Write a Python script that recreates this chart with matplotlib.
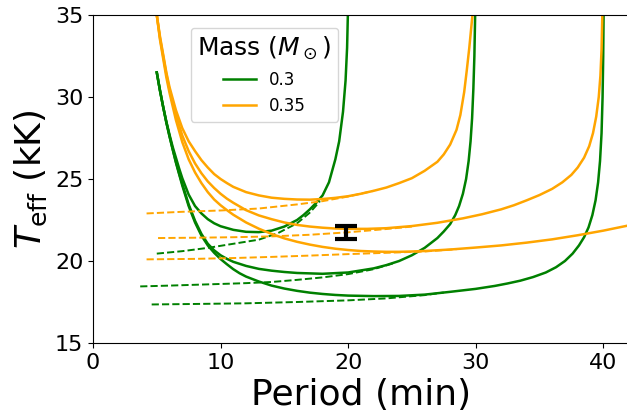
import matplotlib
matplotlib.use("Agg")
import matplotlib.pyplot as plt

# Solid tracks (period in min, Teff in kK)
g1_p = [5.0, 5.25, 5.5, 5.75, 6.0, 6.25, 6.5, 6.75, 7.0, 7.5, 8.0, 8.5, 9.0, 9.5, 10.0, 11.0, 12.0, 13.0, 14.0, 15.0, 16.0, 16.5, 17.0, 17.5, 18.0, 18.5, 19.0, 19.3, 19.6, 19.8, 19.92, 19.98]
g1_t = [31.5, 30.4, 29.4, 28.5, 27.7, 26.95, 26.3, 25.65, 25.05, 24.05, 23.35, 22.9, 22.55, 22.3, 22.12, 21.9, 21.78, 21.76, 21.85, 22.1, 22.5, 22.8, 23.15, 23.55, 24.0, 24.8, 26.2, 27.3, 29.1, 31.0, 33.0, 35.0]
g2_p = [5.0, 5.25, 5.5, 5.75, 6.0, 6.25, 6.5, 6.75, 7.0, 7.5, 8.0, 8.5, 9.0, 9.5, 10.0, 10.5, 11.0, 12.0, 13.0, 14.0, 15.0, 16.0, 18.0, 20.0, 22.0, 23.0, 24.0, 25.0, 26.0, 26.5, 27.0, 27.5, 28.0, 28.4, 28.7, 29.0, 29.25, 29.45, 29.6, 29.72, 29.82, 29.9, 29.96]
g2_t = [31.5, 30.4, 29.4, 28.45, 27.6, 26.8, 26.05, 25.35, 24.7, 23.45, 22.45, 21.65, 21.05, 20.65, 20.35, 20.13, 19.95, 19.7, 19.52, 19.41, 19.33, 19.27, 19.22, 19.3, 19.55, 19.75, 20.0, 20.35, 20.8, 21.1, 21.4, 21.8, 22.25, 22.8, 23.35, 24.1, 25.0, 26.1, 27.3, 28.7, 30.5, 32.5, 35.0]
g3_p = [5.0, 5.25, 5.5, 5.75, 6.0, 6.25, 6.5, 6.75, 7.0, 7.5, 8.0, 8.5, 9.0, 9.5, 10.0, 10.5, 11.0, 11.5, 12.0, 13.0, 14.0, 15.0, 16.0, 17.0, 18.0, 19.0, 20.0, 22.0, 24.0, 26.0, 28.0, 30.0, 31.5, 32.5, 33.5, 34.5, 35.5, 36.3, 37.0, 37.6, 38.1, 38.5, 38.85, 39.15, 39.4, 39.6, 39.75, 39.87, 39.95, 40.0, 40.03]
g3_t = [31.5, 30.4, 29.4, 28.45, 27.6, 26.8, 26.0, 25.3, 24.6, 23.35, 22.35, 21.55, 20.95, 20.5, 20.12, 19.8, 19.5, 19.25, 19.05, 18.75, 18.5, 18.32, 18.18, 18.07, 17.99, 17.93, 17.89, 17.86, 17.87, 17.95, 18.12, 18.3, 18.48, 18.63, 18.8, 19.02, 19.3, 19.62, 20.0, 20.45, 20.95, 21.45, 22.05, 22.8, 23.7, 24.8, 26.1, 27.8, 30.0, 32.5, 35.0]

o1_p = [5.0, 5.25, 5.5, 5.75, 6.0, 6.5, 7.0, 7.5, 8.0, 8.5, 9.0, 9.5, 10.0, 10.5, 11.0, 12.0, 13.0, 14.0, 15.0, 16.0, 17.0, 18.0, 19.0, 20.0, 21.0, 22.0, 23.0, 24.0, 25.0, 26.0, 27.0, 27.5, 28.0, 28.5, 28.8, 29.1, 29.3, 29.5, 29.65, 29.75]
o1_t = [35.0, 33.7, 32.6, 31.5, 30.6, 29.2, 28.1, 27.3, 26.7, 26.15, 25.7, 25.3, 25.0, 24.75, 24.52, 24.2, 24.0, 23.86, 23.79, 23.75, 23.74, 23.78, 23.85, 23.95, 24.1, 24.28, 24.48, 24.75, 25.05, 25.5, 26.05, 26.5, 27.1, 28.0, 28.9, 30.3, 31.6, 33.0, 34.2, 35.0]
o2_p = [5.0, 5.25, 5.5, 5.75, 6.0, 6.5, 7.0, 7.5, 8.0, 8.5, 9.0, 9.5, 10.0, 10.5, 11.0, 12.0, 13.0, 14.0, 15.0, 16.0, 17.0, 18.0, 19.0, 20.0, 21.5, 23.0, 25.0, 27.0, 29.0, 30.5, 32.0, 33.0, 34.0, 35.0, 36.0, 36.8, 37.5, 38.0, 38.5, 38.9, 39.2, 39.45, 39.65, 39.78, 39.87, 39.93]
o2_t = [35.0, 33.6, 32.5, 31.4, 30.45, 28.9, 27.65, 26.7, 25.95, 25.35, 24.85, 24.45, 24.1, 23.8, 23.55, 23.1, 22.78, 22.55, 22.35, 22.2, 22.1, 22.03, 21.98, 21.96, 21.96, 22.0, 22.13, 22.33, 22.6, 22.85, 23.15, 23.4, 23.7, 24.02, 24.4, 24.8, 25.25, 25.7, 26.3, 27.0, 27.8, 28.8, 30.0, 31.3, 32.9, 35.0]
o3_p = [5.0, 5.25, 5.5, 5.75, 6.0, 6.5, 7.0, 7.5, 8.0, 8.5, 9.0, 9.5, 10.0, 10.5, 11.0, 12.0, 13.0, 14.0, 15.0, 16.0, 17.0, 18.0, 19.0, 20.0, 21.0, 22.0, 23.0, 24.0, 25.0, 26.0, 28.0, 30.0, 32.0, 34.0, 36.0, 38.0, 40.0, 42.0]
o3_t = [35.0, 33.5, 32.35, 31.2, 30.25, 28.6, 27.25, 26.2, 25.4, 24.75, 24.2, 23.75, 23.4, 23.1, 22.82, 22.35, 21.97, 21.65, 21.38, 21.17, 21.0, 20.86, 20.75, 20.67, 20.61, 20.58, 20.56, 20.56, 20.58, 20.61, 20.7, 20.82, 20.95, 21.12, 21.32, 21.57, 21.85, 22.17]

# Dashed branches
g1d_p = [5.0, 7.0, 9.0, 11.0, 13.0, 14.5, 16.0, 17.0, 17.8]
g1d_t = [20.45, 20.6, 20.8, 21.05, 21.3, 21.7, 22.3, 22.95, 23.65]
g2d_p = [3.7, 6.0, 8.0, 10.0, 12.0, 14.0, 16.0, 18.0, 20.0, 22.0, 23.5]
g2d_t = [18.45, 18.5, 18.55, 18.6, 18.65, 18.72, 18.85, 19.0, 19.2, 19.5, 19.85]
g3d_p = [4.6, 8.0, 12.0, 16.0, 20.0, 23.0, 26.0, 27.5]
g3d_t = [17.35, 17.38, 17.42, 17.5, 17.6, 17.72, 17.92, 18.08]
o1d_p = [4.2, 7.0, 10.0, 13.0, 16.0, 18.0, 20.0, 22.0]
o1d_t = [22.9, 23.0, 23.08, 23.2, 23.45, 23.65, 23.93, 24.28]
o2d_p = [5.1, 8.0, 11.0, 14.0, 17.0, 20.0, 23.0, 25.0]
o2d_t = [21.4, 21.42, 21.45, 21.5, 21.6, 21.75, 21.95, 22.1]
o3d_p = [4.2, 8.0, 11.0, 14.0, 17.0, 20.0, 23.0, 26.0, 28.5]
o3d_t = [20.1, 20.13, 20.18, 20.25, 20.33, 20.42, 20.5, 20.58, 20.72]

# Observed system
obs_p = [19.8]
obs_t = [21.74]
obs_err = [0.4]

masses = ["0.3", "0.35"]
colors = ["green", "orange"]

fig = plt.figure(figsize=(6.27, 4.13), dpi=100)
ax = fig.add_axes([93 / 627, 70 / 413, 537 / 627, 328 / 413])

tracks = [
    [(g1_p, g1_t, g1d_p, g1d_t), (g2_p, g2_t, g2d_p, g2d_t), (g3_p, g3_t, g3d_p, g3d_t)],
    [(o1_p, o1_t, o1d_p, o1d_t), (o2_p, o2_t, o2d_p, o2d_t), (o3_p, o3_t, o3d_p, o3d_t)],
]

handles = []
for mass, col, group in zip(masses, colors, tracks):
    for i, (p, t, pd, td) in enumerate(group):
        line, = ax.plot(p, t, color=col, lw=1.8)
        ax.plot(pd, td, color=col, lw=1.4, ls="--")
        if i == 0:
            line.set_label(mass)
            handles.append(line)

ax.errorbar(obs_p, obs_t, yerr=obs_err, fmt="none", ecolor="black",
            elinewidth=3, capsize=8, capthick=3, zorder=5)

ax.set_xlim(0, 42.1)
ax.set_ylim(15, 35)
ax.set_xticks([0, 10, 20, 30, 40])
ax.set_yticks([15, 20, 25, 30, 35])
ax.tick_params(labelsize=16)
ax.set_xlabel("Period (min)", fontsize=26)
ax.set_ylabel(r"$T_{\rm eff}$ (kK)", fontsize=26)

ax.legend(handles=handles, title=r"Mass ($M_\odot$)", fontsize=12,
          title_fontsize=18, loc="upper left", bbox_to_anchor=(0.182, 0.96),
          borderaxespad=0)

fig.savefig("out.png", dpi=100)
